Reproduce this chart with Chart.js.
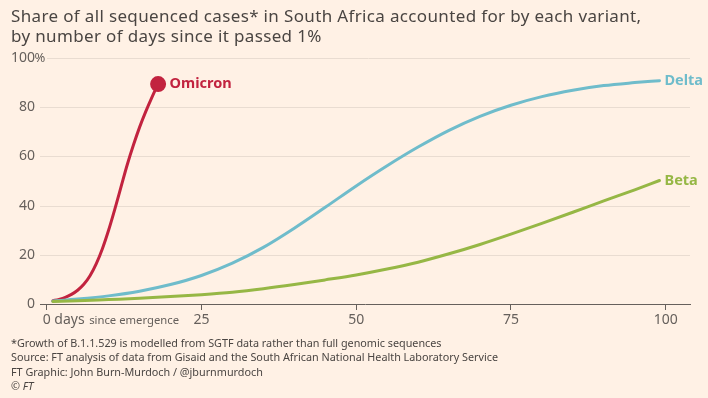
<!DOCTYPE html>
<html>
<head>
<meta charset="utf-8">
<script src="https://cdn.jsdelivr.net/npm/chart.js@4.4.0/dist/chart.umd.min.js"></script>
<style>
  html, body { margin: 0; padding: 0; background: #fff1e5; }
  body { width: 708px; height: 398px; position: relative; overflow: hidden; font-family: 'Noto Sans', sans-serif; }
  #title { position: absolute; left: 11px; top: 6px; font-size: 17px; letter-spacing: 0.35px; line-height: 20px; color: #4a4542; z-index: 2; }
  #foot { position: absolute; left: 11px; top: 336px; font-size: 10.8px; line-height: 14.4px; color: #4a4542; z-index: 2; }
  #chart { position: absolute; left: 0; top: 0; }
</style>
</head>
<body>
<div id="title">Share of all sequenced cases* in South Africa accounted for by each variant,<br>by number of days since it passed 1%</div>
<canvas id="chart" width="708" height="398"></canvas>
<div id="foot">*Growth of B.1.1.529 is modelled from SGTF data rather than full genomic sequences<br>Source: FT analysis of data from Gisaid and the South African National Health Laboratory Service<br>FT Graphic: John Burn-Murdoch / @jburnmurdoch<br><i>© FT</i></div>
<script>
        // days since each variant passed 1% of sequenced cases
        const omicronDays = [1, 2, 3, 4, 5, 6, 7, 8, 9, 10, 11, 12, 13, 14, 15, 16, 17, 18];
        const omicronShare = [1.3, 1.9, 2.7, 3.9, 5.6, 8.0, 11.5, 16.3, 22.5, 30, 38.5, 47.5, 56.5, 64.5, 71.8, 78.2, 84.0, 89.4];

        const deltaDays = [1, 5, 10, 15, 20, 25, 30, 35, 40, 45, 50, 55, 60, 65, 70, 75, 80, 85, 90, 95, 99];
        const deltaShare = [1.2, 2.0, 3.3, 5.2, 7.9, 11.6, 16.6, 23.0, 30.8, 39.3, 48.0, 56.2, 63.8, 70.6, 76.3, 80.8, 84.3, 86.9, 88.8, 90.0, 90.8];

        const betaDays = [1, 5, 10, 15, 20, 25, 30, 35, 40, 45, 50, 55, 60, 65, 70, 75, 80, 85, 90, 95, 99];
        const betaShare = [1.0, 1.3, 1.8, 2.3, 3.0, 3.8, 4.8, 6.2, 7.9, 9.8, 11.8, 14.2, 17.0, 20.4, 24.2, 28.4, 32.8, 37.3, 41.9, 46.4, 50.2];

        const xTicks = [0, 25, 50, 75, 100];
        const yTicks = [0, 20, 40, 60, 80, 100];

        const colors = { Omicron: '#c2233f', Delta: '#6fbccb', Beta: '#96b745' };
        const textGrey = '#66605c';
        const gridColor = '#e9dcd1';

        function makeSeries(label, days, share) {
            return {
                label,
                data: days.map((d, i) => ({ x: d, y: share[i] })),
                borderColor: colors[label],
                backgroundColor: colors[label],
                borderWidth: 3,
                cubicInterpolationMode: 'monotone',
                pointRadius: label === 'Omicron' ? days.map((d, i) => i === days.length - 1 ? 6.5 : 0) : 0,
                borderCapStyle: 'round'
            };
        }

        // horizontal grid, the top line starts after the "100%" label
        const gridPlugin = {
            id: 'ftGrid',
            beforeDatasetsDraw(chart) {
                const c = chart.ctx;
                const area = chart.chartArea;
                const ys = chart.scales.y;
                c.save();
                c.strokeStyle = gridColor;
                c.lineWidth = 1;
                yTicks.forEach(v => {
                    if (v === 0) return;
                    const y = Math.round(ys.getPixelForValue(v)) + 0.5;
                    c.beginPath();
                    c.moveTo(v === 100 ? 47 : area.left, y);
                    c.lineTo(area.right, y);
                    c.stroke();
                });
                c.restore();
            }
        };

        const labelsPlugin = {
            id: 'ftLabels',
            afterDatasetsDraw(chart) {
                const c = chart.ctx;
                const xs = chart.scales.x;
                const ys = chart.scales.y;
                c.save();

                // y tick labels, the % hangs past the numbers
                c.fillStyle = textGrey;
                c.font = '14px "Noto Sans"';
                c.textBaseline = 'middle';
                yTicks.forEach(v => {
                    const y = ys.getPixelForValue(v);
                    c.textAlign = 'right';
                    c.fillText(String(v), 35, y);
                    if (v === 100) {
                        c.textAlign = 'left';
                        c.font = '13px "Noto Sans"';
                        c.fillText('%', 34.5, y);
                        c.font = '14px "Noto Sans"';
                    }
                });

                // first x label: "0 days since emergence"
                const x0 = xs.getPixelForValue(0);
                const yl = xs.bottom - 24 + 16.5;
                c.textAlign = 'left';
                c.font = '14px "Noto Sans"';
                const zw = c.measureText('0').width;
                let x = x0 - zw / 2;
                c.fillText('0 days', x, yl);
                x += c.measureText('0 days').width + 4.5;
                c.font = '11.3px "Noto Sans"';
                c.fillText('since emergence', x, yl + 0.5);

                // series names at line ends
                c.font = 'bold 14.5px "Noto Sans"';
                chart.data.datasets.forEach(ds => {
                    const last = ds.data[ds.data.length - 1];
                    const px = xs.getPixelForValue(last.x);
                    const py = ys.getPixelForValue(last.y);
                    c.fillStyle = colors[ds.label];
                    c.fillText(ds.label, px + (ds.label === 'Omicron' ? 11.5 : 5), py);
                });
                c.restore();
            }
        };

        const ctx = document.getElementById('chart').getContext('2d');
        new Chart(ctx, {
            type: 'line',
            data: {
                datasets: [
                    makeSeries('Beta', betaDays, betaShare),
                    makeSeries('Delta', deltaDays, deltaShare),
                    makeSeries('Omicron', omicronDays, omicronShare)
                ]
            },
            options: {
                responsive: false,
                animation: false,
                layout: { padding: { top: 58, right: 18, bottom: 70, left: 0 } },
                plugins: { legend: { display: false }, tooltip: { enabled: false } },
                scales: {
                    x: {
                        type: 'linear',
                        min: -1.08,
                        max: 103.93,
                        afterFit: s => { s.height = 24; },
                        afterBuildTicks: s => { s.ticks = xTicks.map(v => ({ value: v })); },
                        grid: { drawOnChartArea: false, tickLength: 6, color: textGrey },
                        border: { color: textGrey, width: 1 },
                        ticks: {
                            callback: v => v === 0 ? '' : v,
                            color: textGrey,
                            font: { size: 14, family: 'Noto Sans' },
                            padding: 2,
                            maxRotation: 0
                        }
                    },
                    y: {
                        min: 0,
                        max: 100,
                        afterFit: s => { s.width = 40; },
                        afterBuildTicks: s => { s.ticks = yTicks.map(v => ({ value: v })); },
                        grid: { display: false },
                        border: { display: false },
                        ticks: { display: false }
                    }
                }
            },
            plugins: [gridPlugin, labelsPlugin]
        });
</script>
</body>
</html>
